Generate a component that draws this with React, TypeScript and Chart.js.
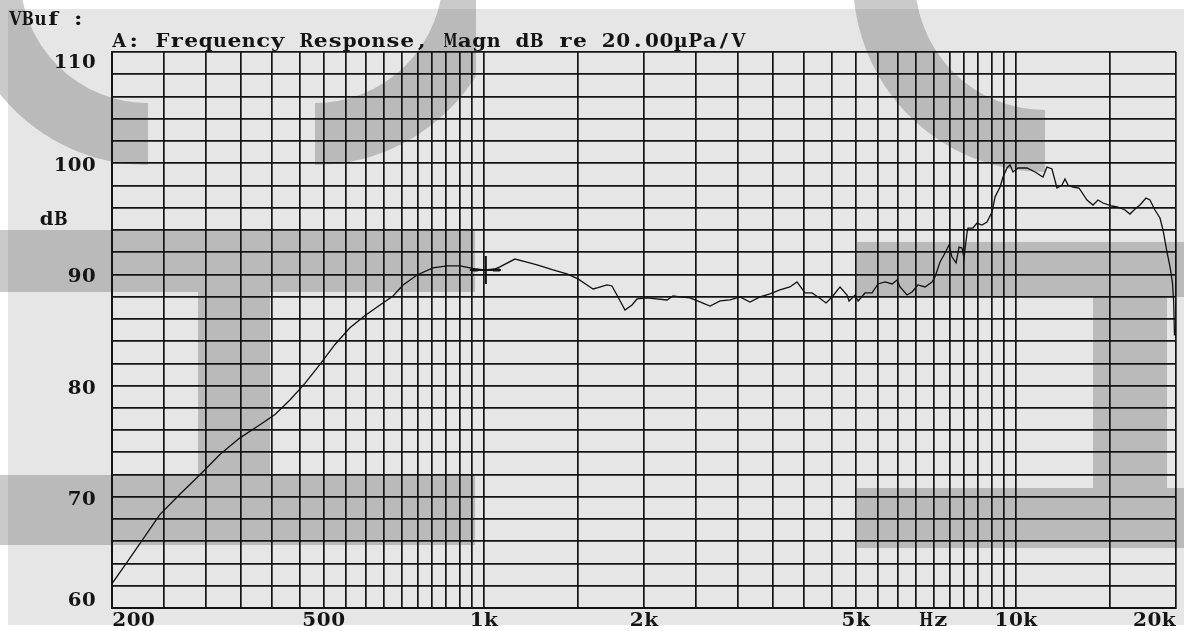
import { useEffect, useRef } from 'react';
import { Chart, registerables } from 'chart.js';

Chart.register(...registerables);

// ---- data ----
const freqHz = [
  200, 214, 228, 246, 268, 293, 319, 348, 380, 405, 432, 461, 492, 525, 560, 598, 638, 675, 705, 749,
  802, 853, 902, 942, 962, 1005, 1050, 1072, 1144, 1185, 1259, 1349, 1433, 1503, 1563, 1604, 1639, 1704,
  1741, 1779, 1842, 1899, 1940, 2026, 2210, 2267, 2337, 2440, 2548, 2662, 2780, 2903, 3031, 3164, 3304,
  3450, 3602, 3761, 3878, 4014, 4138, 4248, 4398, 4513, 4672, 4816, 4858, 4986, 5052, 5206, 5366, 5507,
  5676, 5851, 5980, 6058, 6244, 6380, 6546, 6748, 6956, 7047, 7202, 7360, 7488, 7586, 7720, 7820, 7922,
  7990, 8094, 8128, 8306, 8452, 8636, 8826, 9020, 9138, 9338, 9460, 9624, 9750, 9878, 10094, 10496,
  10866, 11246, 11442, 11692, 11948, 12210, 12370, 12532, 12806, 13144, 13606, 13964, 14270, 14582,
  15162, 15560, 16036, 16386, 16746, 17112, 17562, 17868, 18260, 18660, 18908, 19238, 19500, 19700,
  19800, 19870,
];
const magnitudeDb = [
  62.2, 64.2, 66.1, 68.4, 70.2, 72.0, 73.8, 75.3, 76.5, 77.4, 78.7, 80.2, 81.9, 83.7, 85.2, 86.3, 87.25,
  88.06, 89.05, 89.95, 90.58, 90.76, 90.76, 90.58, 90.49, 90.4, 90.49, 90.67, 91.38, 91.2, 90.85, 90.4,
  90.04, 89.6, 89.05, 88.69, 88.8, 89.05, 88.96, 88.15, 86.8, 87.25, 87.79, 87.88, 87.7, 88.06, 87.97,
  87.88, 87.52, 87.16, 87.61, 87.7, 87.97, 87.52, 87.97, 88.24, 88.6, 88.87, 89.32, 88.33, 88.33, 87.97,
  87.43, 87.97, 88.87, 88.15, 87.61, 88.15, 87.61, 88.33, 88.33, 89.14, 89.32, 89.14, 89.5, 88.87,
  88.15, 88.42, 89.05, 88.87, 89.32, 89.77, 91.12, 91.92, 92.64, 91.56, 91.03, 92.46, 92.37, 91.47,
  93.72, 94.17, 94.17, 94.62, 94.44, 94.71, 95.61, 96.96, 97.86, 98.76, 99.57, 99.84, 99.21, 99.57,
  99.57, 99.21, 98.76, 99.66, 99.48, 97.77, 98.04, 98.58, 98.04, 97.86, 97.77, 96.69, 96.24, 96.69,
  96.42, 96.15, 96.06, 95.79, 95.43, 95.88, 96.24, 96.87, 96.69, 95.79, 95.07, 93.99, 92.01, 90.6,
  89.2, 87.5, 84.5,
];

const xGridValues = [
  200, 250, 300, 350, 400, 450, 500, 550, 600, 650, 700, 750, 800, 850, 900, 950, 1000,
  1500,
  2000, 2500, 3000, 3500, 4000, 4500, 5000, 5500, 6000, 6500, 7000, 7500, 8000, 8500, 9000, 9500, 10000,
  15000, 20000,
];
const xTickLabelValues = [200, 500, 1000, 2000, 5000, 7000, 10000, 20000];
const xTickLabels = ['200', '500', '1k', '2k', '5k', 'Hz', '10k', '20k'];
const yTickLabelValues = [110, 100, 90, 80, 70, 60];
const yTickLabels = ['110', '100', '90', '80', '70', '60'];
const yMinDb = 60;
const yMaxDb = 110;
const yGridStep = 2;
const yUnitValue = 95;

const titleText = 'A: Frequency Response, Magn dB re 20.00µPa/V';
const cornerText = 'VBuf :';
const yUnitText = 'dB';
const cursorFreq = 1000;
const cursorDb = 90.4;

const FONT = '"DejaVu Serif", "Liberation Serif", serif';
const INK = '#141414';

// monospaced drawing of serif glyphs (emulates the bitmap font of the original)
function drawText(
  ctx: CanvasRenderingContext2D,
  s: string,
  x: number,
  y: number,
  align: 'left' | 'right' | 'center',
  adv = 14.4,
  size = 19,
) {
  const total = adv * s.length;
  const start = align === 'left' ? x : align === 'right' ? x - total : x - total / 2;
  ctx.save();
  ctx.font = `bold ${size}px ${FONT}`;
  ctx.textAlign = 'center';
  ctx.textBaseline = 'alphabetic';
  ctx.fillStyle = INK;
  for (let i = 0; i < s.length; i++) {
    const c = s[i];
    if (c === ' ') continue;
    const w = ctx.measureText(c).width;
    const maxW = adv - 0.5;
    const sx = Math.min(1.2, maxW / w);
    ctx.save();
    ctx.translate(start + adv * (i + 0.5), y);
    ctx.scale(sx, 1);
    ctx.fillText(c, 0, 0);
    ctx.restore();
  }
  ctx.restore();
}

const backgroundPlugin = {
  id: 'bgWatermark',
  beforeDraw(chart: any) {
    const ctx: CanvasRenderingContext2D = chart.ctx;
    const W = chart.width;
    const H = chart.height;
    ctx.save();
    ctx.fillStyle = '#ffffff';
    ctx.fillRect(0, 0, W, H);
    ctx.fillStyle = '#e6e6e6';
    ctx.fillRect(8, 9, W - 8, H - 15);
    // watermark logo (decoration)
    const wm = 'rgba(110,110,110,0.37)';
    ctx.fillStyle = wm;
    ctx.beginPath();
    ctx.rect(0, 230, 475, 62);
    ctx.rect(198, 292, 72, 183);
    ctx.rect(0, 475, 475, 70);
    ctx.rect(857, 242, W - 857, 55);
    ctx.rect(1093, 297, 74, 191);
    ctx.rect(857, 488, W - 857, 60);
    ctx.fill();
    ctx.strokeStyle = wm;
    ctx.lineCap = 'butt';
    ctx.lineWidth = 62;
    ctx.beginPath();
    ctx.arc(148, -25, 159, Math.PI / 2, Math.PI);
    ctx.stroke();
    ctx.save();
    ctx.beginPath();
    ctx.rect(0, 0, 476, 200);
    ctx.clip();
    ctx.beginPath();
    ctx.arc(315, -25, 159, 0, Math.PI / 2);
    ctx.stroke();
    ctx.restore();
    ctx.beginPath();
    ctx.arc(1045, -20, 161, Math.PI / 2, Math.PI);
    ctx.stroke();
    ctx.restore();
  },
  afterDatasetsDraw(chart: any) {
    const ctx: CanvasRenderingContext2D = chart.ctx;
    const xs = chart.scales.x;
    const ys = chart.scales.y;
    const cx = xs.getPixelForValue(cursorFreq) + 2;
    const cy = ys.getPixelForValue(cursorDb);
    ctx.save();
    ctx.strokeStyle = INK;
    ctx.lineWidth = 2;
    ctx.beginPath();
    ctx.moveTo(cx, cy - 14);
    ctx.lineTo(cx, cy + 14);
    ctx.moveTo(cx - 16, cy);
    ctx.lineTo(cx + 15, cy);
    ctx.stroke();
    ctx.lineWidth = 3;
    ctx.beginPath();
    ctx.moveTo(cx - 15, cy);
    ctx.lineTo(cx - 8, cy);
    ctx.moveTo(cx + 7, cy);
    ctx.lineTo(cx + 14, cy);
    ctx.stroke();
    ctx.restore();
  },
  afterDraw(chart: any) {
    const ctx: CanvasRenderingContext2D = chart.ctx;
    const xs = chart.scales.x;
    const ys = chart.scales.y;
    const area = chart.chartArea;
    drawText(ctx, cornerText, 9, 25, 'left', 12.6, 19);
    drawText(ctx, titleText, area.left, 47, 'left', 14.4, 19);
    yTickLabelValues.forEach((v, i) => {
      const py = ys.getPixelForValue(v);
      let off = 8;
      if (i === 0) off = 16;
      if (i === yTickLabelValues.length - 1) off = -2;
      drawText(ctx, yTickLabels[i], 96, py + off, 'right', 14.2, 19);
    });
    drawText(ctx, yUnitText, 68, ys.getPixelForValue(yUnitValue) + 6, 'right', 14.2, 19);
    xTickLabelValues.forEach((v, i) => {
      const px = xs.getPixelForValue(v);
      let align: 'left' | 'right' | 'center' = 'center';
      if (i === 0) align = 'left';
      if (i === xTickLabelValues.length - 1) align = 'right';
      drawText(ctx, xTickLabels[i], px, 626, align, 14.4, 19);
    });
  },
};

export default function App() {
  const ref = useRef<HTMLCanvasElement | null>(null);
  useEffect(() => {
    if (!ref.current) return;
    const points = freqHz.map((f, i) => ({ x: f, y: magnitudeDb[i] }));
    const chart = new Chart(ref.current, {
      type: 'line',
      data: {
        datasets: [
          {
            data: points,
            borderColor: '#111111',
            borderWidth: 1.3,
            pointRadius: 0,
            tension: 0,
            fill: false,
          },
        ],
      },
      options: {
        animation: false,
        responsive: false,
        maintainAspectRatio: false,
        events: [],
        layout: { padding: { left: 112, top: 52, right: 8, bottom: 23 } },
        plugins: { legend: { display: false }, tooltip: { enabled: false }, title: { display: false } },
        scales: {
          x: {
            type: 'logarithmic',
            min: 200,
            max: 20000,
            afterBuildTicks: (scale: any) => {
              scale.ticks = xGridValues.map((v) => ({ value: v }));
            },
            ticks: { display: false },
            grid: { color: INK, lineWidth: 1.7, drawTicks: false },
            border: { display: true, color: INK, width: 2 },
          },
          y: {
            type: 'linear',
            min: yMinDb,
            max: yMaxDb,
            ticks: { display: false, stepSize: yGridStep },
            grid: { color: INK, lineWidth: 1.7, drawTicks: false },
            border: { display: true, color: INK, width: 2 },
          },
        },
      },
      plugins: [backgroundPlugin],
    });
    return () => chart.destroy();
  }, []);
  return (
    <div style={{ position: 'fixed', left: 0, top: 0, width: 1184, height: 631 }}>
      <canvas ref={ref} width={1184} height={631} style={{ display: 'block' }} />
    </div>
  );
}
